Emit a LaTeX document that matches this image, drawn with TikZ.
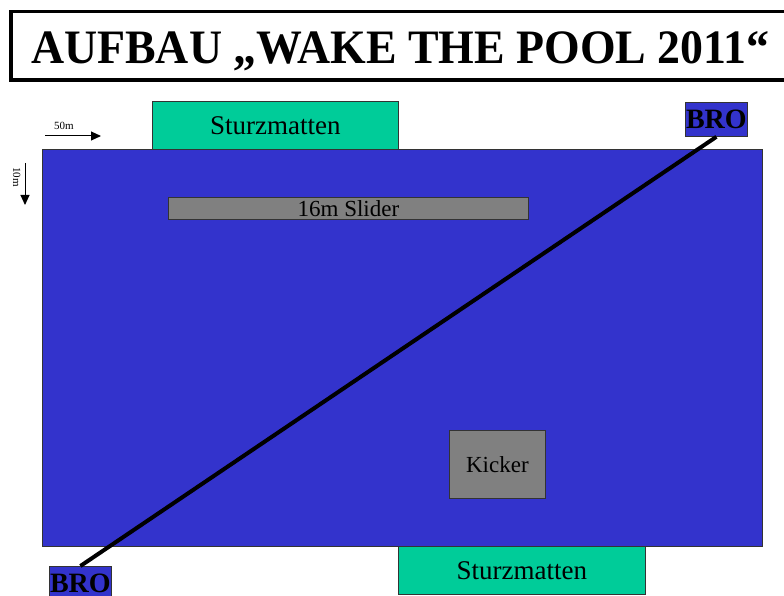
\documentclass[tikz,border=0pt]{standalone}
\usepackage{fontspec}
\setmainfont{Liberation Serif}
\usetikzlibrary{arrows.meta}
\definecolor{pool}{HTML}{3333CC}
\definecolor{mat}{HTML}{00CC99}
\definecolor{obst}{HTML}{808080}
\tikzset{
  box/.style={draw=black!80, line width=0.8pt, inner sep=0pt, anchor=north west},
  matbox/.style={box, fill=mat, font=\fontsize{27}{27}\selectfont},
  obstbox/.style={box, fill=obst, font=\fontsize{23}{23}\selectfont},
  brobox/.style={box, fill=pool, font=\fontsize{28}{28}\selectfont\bfseries},
  dimarrow/.style={line width=1pt, -{Triangle[length=10pt,width=9pt]}},
  dimlabel/.style={font=\fontsize{11}{11}\selectfont, inner sep=0pt}
}
\begin{document}
\begin{tikzpicture}[x=1pt,y=-1pt]
\useasboundingbox (0,0) rectangle (784,596);
\clip (0,0) rectangle (784,596);
\fill[white] (0,0) rectangle (784,596);
% title
\draw[line width=3.5pt] (11,11.5) rectangle (800,80);
\node[font=\fontsize{48}{48}\selectfont\bfseries, anchor=base west, inner sep=0pt, xscale=0.955] (title) at (31,64) {AUFBAU „WAKE THE POOL 2011“};
% pool
\node[box, fill=pool, minimum width=720pt, minimum height=397pt] (pool) at (42,149) {};
% mats
\node[matbox, minimum width=246pt, minimum height=48pt] (matT) at (152,101) {Sturzmatten};
\node[matbox, minimum width=247pt, minimum height=48pt] (matB) at (398,546) {Sturzmatten};
% slider & kicker
\node[obstbox, minimum width=360pt, minimum height=22pt] (slider) at (168,197) {16m Slider};
\node[obstbox, minimum width=96pt, minimum height=68pt] (kicker) at (449,430) {Kicker};
% BRO
\node[brobox, minimum width=62pt, minimum height=34pt] (broT) at (685,102) {BRO};
\node[brobox, minimum width=62pt, minimum height=34pt] (broB) at (49,566) {BRO};
\draw[line width=4pt] (broT.south) -- (broB.north);
% dimension arrows
\coordinate (a50s) at (45,136);
\coordinate (a50e) at (101,136);
\draw[dimarrow] (a50s) -- (a50e);
\node[dimlabel, anchor=base] (l50) at (64,130) {50m};
\coordinate (a10s) at (25,163);
\coordinate (a10e) at (25,205);
\draw[dimarrow] (a10s) -- (a10e);
\node[dimlabel, rotate=-90, anchor=base] (l10) at (13,177) {10m};
\end{tikzpicture}
\end{document}
